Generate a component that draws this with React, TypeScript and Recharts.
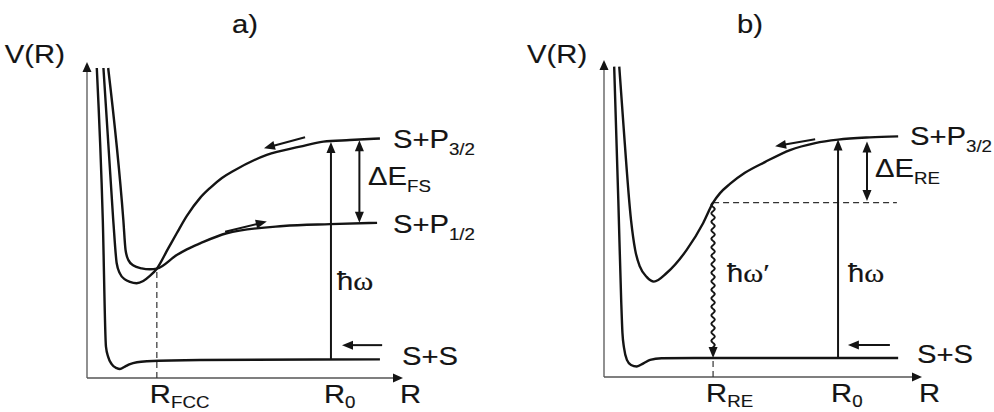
import React from "react";
import { LineChart, Line, XAxis, YAxis, ReferenceLine, ReferenceDot } from "recharts";

type Pt = { r: number; v: number };
type Seg = { x1: number; y1: number; x2: number; y2: number; kind: string };
type Note = { x: number; y: number; text: string; sub?: string; anchor?: string };

// a) potential curves (R, V) in arbitrary units
const groundA: Pt[] = [
  { r: 0.31, v: 9.81 }, { r: 0.5, v: 5.0 }, { r: 0.6, v: 0.99 }, { r: 0.67, v: 0.67 },
  { r: 0.78, v: 0.44 }, { r: 0.94, v: 0.31 }, { r: 1.04, v: 0.285 }, { r: 1.2, v: 0.36 },
  { r: 1.36, v: 0.44 }, { r: 1.58, v: 0.5 }, { r: 1.9, v: 0.53 }, { r: 3.58, v: 0.57 },
  { r: 9.27, v: 0.59 },
];
const p32A: Pt[] = [
  { r: 0.52, v: 9.81 }, { r: 0.83, v: 5.0 }, { r: 0.94, v: 3.63 }, { r: 1.04, v: 3.31 },
  { r: 1.2, v: 3.12 }, { r: 1.36, v: 3.04 }, { r: 1.57, v: 3.0 }, { r: 1.78, v: 3.07 },
  { r: 1.99, v: 3.23 }, { r: 2.21, v: 3.46 }, { r: 2.57, v: 4.1 }, { r: 2.84, v: 4.58 },
  { r: 3.16, v: 5.13 }, { r: 3.58, v: 5.7 }, { r: 3.89, v: 6.01 }, { r: 4.27, v: 6.33 },
  { r: 4.63, v: 6.55 }, { r: 5.69, v: 7.06 }, { r: 6.74, v: 7.32 }, { r: 7.48, v: 7.48 },
  { r: 8.32, v: 7.53 }, { r: 9.27, v: 7.58 },
];
const p12A: Pt[] = [
  { r: 0.67, v: 9.81 }, { r: 1.15, v: 5.0 }, { r: 1.22, v: 4.05 }, { r: 1.31, v: 3.73 },
  { r: 1.47, v: 3.56 }, { r: 1.73, v: 3.47 }, { r: 1.99, v: 3.44 }, { r: 2.21, v: 3.46 },
  { r: 2.84, v: 3.89 }, { r: 3.16, v: 4.07 }, { r: 3.58, v: 4.26 }, { r: 4.42, v: 4.58 },
  { r: 6.21, v: 4.81 }, { r: 7.69, v: 4.87 }, { r: 9.18, v: 4.91 },
];

// b)
const groundB: Pt[] = [
  { r: 0.32, v: 9.79 }, { r: 0.45, v: 5.58 }, { r: 0.54, v: 2.43 }, { r: 0.58, v: 1.39 },
  { r: 0.63, v: 0.92 }, { r: 0.72, v: 0.54 }, { r: 0.85, v: 0.38 }, { r: 1.03, v: 0.33 },
  { r: 1.24, v: 0.43 }, { r: 1.45, v: 0.54 }, { r: 1.81, v: 0.59 }, { r: 2.86, v: 0.6 },
  { r: 9.25, v: 0.6 },
];
const p32B: Pt[] = [
  { r: 0.48, v: 9.79 }, { r: 0.6, v: 8.11 }, { r: 0.85, v: 4.95 }, { r: 0.98, v: 4.01 },
  { r: 1.13, v: 3.48 }, { r: 1.34, v: 3.16 }, { r: 1.57, v: 3.01 }, { r: 1.97, v: 3.28 },
  { r: 2.6, v: 4.01 }, { r: 3.12, v: 4.86 }, { r: 3.43, v: 5.5 }, { r: 3.65, v: 5.8 },
  { r: 3.96, v: 6.09 }, { r: 4.43, v: 6.44 }, { r: 5.06, v: 6.78 }, { r: 5.85, v: 7.16 },
  { r: 6.64, v: 7.38 }, { r: 7.36, v: 7.49 }, { r: 8.36, v: 7.56 }, { r: 9.25, v: 7.59 },
];

const ticksA = [2.21, 7.72, 10];
const tickSubA = ["FCC", "0", ""];
const ticksB = [3.43, 7.36, 10];
const tickSubB = ["RE", "0", ""];

const arrowsA: Seg[] = [
  { x1: 0, y1: 0, x2: 10, y2: 0, kind: "axis" },
  { x1: 0, y1: 0, x2: 0, y2: 10, kind: "axis" },
  { x1: 2.21, y1: 0, x2: 2.21, y2: 3.46, kind: "dash" },
  { x1: 7.72, y1: 0.6, x2: 7.72, y2: 7.47, kind: "arrow" },
  { x1: 8.62, y1: 4.91, x2: 8.62, y2: 7.52, kind: "double" },
  { x1: 9.34, y1: 1.04, x2: 8.07, y2: 1.04, kind: "arrow" },
  { x1: 6.9, y1: 7.62, x2: 5.6, y2: 7.27, kind: "arrow" },
  { x1: 4.37, y1: 4.63, x2: 5.69, y2: 4.95, kind: "arrow" },
];
const arrowsB: Seg[] = [
  { x1: 0, y1: 0, x2: 10, y2: 0, kind: "axis" },
  { x1: 0, y1: 0, x2: 0, y2: 10, kind: "axis" },
  { x1: 3.43, y1: 0, x2: 3.43, y2: 0.6, kind: "dash" },
  { x1: 3.43, y1: 5.5, x2: 9.21, y2: 5.5, kind: "dash" },
  { x1: 3.43, y1: 5.5, x2: 3.43, y2: 0.6, kind: "wave" },
  { x1: 7.36, y1: 0.6, x2: 7.36, y2: 7.49, kind: "arrow" },
  { x1: 8.27, y1: 5.55, x2: 8.27, y2: 7.43, kind: "double" },
  { x1: 8.99, y1: 1.01, x2: 7.67, y2: 1.01, kind: "arrow" },
  { x1: 6.64, y1: 7.5, x2: 5.38, y2: 7.28, kind: "arrow" },
];

const notesA: Note[] = [
  { x: 5.0, y: 10.92, text: "a)", anchor: "middle" },
  { x: -2.6, y: 9.97, text: "V(R)" },
  { x: 9.68, y: 7.28, text: "S+P", sub: "3/2" },
  { x: 8.89, y: 6.1, text: "ΔE", sub: "FS" },
  { x: 9.68, y: 4.59, text: "S+P", sub: "1/2" },
  { x: 7.91, y: 2.79, text: "ħω" },
  { x: 9.97, y: 0.41, text: "S+S" },
];
const notesB: Note[] = [
  { x: 4.59, y: 10.85, text: "b)", anchor: "middle" },
  { x: -2.42, y: 9.9, text: "V(R)" },
  { x: 9.62, y: 7.32, text: "S+P", sub: "3/2" },
  { x: 8.52, y: 6.31, text: "ΔE", sub: "RE" },
  { x: 3.87, y: 3.0, text: "ħω′" },
  { x: 7.67, y: 3.0, text: "ħω" },
  { x: 9.84, y: 0.44, text: "S+S" },
];

const FONT = "'Liberation Sans', Arial, Helvetica, sans-serif";
const INK = "#141414";

function Txt({
  x,
  y,
  text,
  sub,
  anchor,
  subDy = 7,
}: {
  x: number;
  y: number;
  text: string;
  sub?: string;
  anchor?: string;
  subDy?: number;
}) {
  const parts = text.split(/(ω′?)/).filter((s) => s !== "");
  return (
    <text
      transform={`translate(${x},${y}) scale(1.17,1)`}
      fontFamily={FONT}
      fontSize={25}
      fill={INK}
      stroke={INK}
      strokeWidth={0.15}
      textAnchor={anchor || "start"}
    >
      {parts.map((p, i) =>
        p.startsWith("ω") ? (
          <tspan key={i} fontFamily="'Liberation Serif', 'DejaVu Serif', serif" fontSize={26}>
            {p}
          </tspan>
        ) : (
          <tspan key={i}>{p}</tspan>
        )
      )}
      {sub ? (
        <tspan fontSize={16} dy={subDy}>
          {sub}
        </tspan>
      ) : null}
    </text>
  );
}

function arrowShape(kind: string) {
  return (p: any) => {
    const { x1, y1, x2, y2 } = p;
    const len = Math.hypot(x2 - x1, y2 - y1) || 1;
    const ux = (x2 - x1) / len;
    const uy = (y2 - y1) / len;
    const nx = -uy;
    const ny = ux;
    if (kind === "dash") {
      return <line x1={x1} y1={y1} x2={x2} y2={y2} stroke="#333" strokeWidth={1.2} strokeDasharray="6 4" />;
    }
    const hl = kind === "axis" ? 10 : 11;
    const hw = 4.5;
    const head = (tx: number, ty: number, dx: number, dy: number) => {
      const bx = tx - dx * hl;
      const by = ty - dy * hl;
      return `${tx},${ty} ${bx + nx * hw},${by + ny * hw} ${bx - nx * hw},${by - ny * hw}`;
    };
    const ex = x2 - ux * (hl - 1);
    const ey = y2 - uy * (hl - 1);
    if (kind === "axis") {
      return (
        <g>
          <line x1={x1} y1={y1} x2={ex} y2={ey} stroke="#555" strokeWidth={1.3} />
          <polygon points={head(x2, y2, ux, uy)} fill={INK} />
        </g>
      );
    }
    if (kind === "wave") {
      let d = `M${x1},${y1}`;
      const run = len - hl + 1;
      for (let s = 1; s <= run; s += 1) {
        const a = 1.7 * Math.sin((2 * Math.PI * s) / 8.5);
        d += ` L${x1 + ux * s + nx * a},${y1 + uy * s + ny * a}`;
      }
      return (
        <g>
          <path d={d} fill="none" stroke={INK} strokeWidth={1.9} />
          <polygon points={head(x2, y2, ux, uy)} fill={INK} />
        </g>
      );
    }
    if (kind === "double") {
      const sx = x1 + ux * (hl - 1);
      const sy = y1 + uy * (hl - 1);
      return (
        <g>
          <line x1={sx} y1={sy} x2={ex} y2={ey} stroke={INK} strokeWidth={2} />
          <polygon points={head(x2, y2, ux, uy)} fill={INK} />
          <polygon points={head(x1, y1, -ux, -uy)} fill={INK} />
        </g>
      );
    }
    return (
      <g>
        <line x1={x1} y1={y1} x2={ex} y2={ey} stroke={INK} strokeWidth={2} />
        <polygon points={head(x2, y2, ux, uy)} fill={INK} />
      </g>
    );
  };
}

function RTick(props: any) {
  const { x, y, payload, ticks, subs } = props;
  const i = ticks.indexOf(payload.value);
  const sub = subs[i] || "";
  const dx = sub === "" ? -3 : -7;
  return <Txt x={x + dx} y={y + 17} text="R" sub={sub || undefined} subDy={5} />;
}

function Panel({
  curves,
  arrows,
  notes,
  ticks,
  subs,
  margin,
}: {
  curves: Pt[][];
  arrows: Seg[];
  notes: Note[];
  ticks: number[];
  subs: string[];
  margin: { top: number; right: number; bottom: number; left: number };
}) {
  return (
    <LineChart width={497} height={412} margin={margin}>
      <XAxis
        type="number"
        dataKey="r"
        domain={[0, 10]}
        allowDataOverflow
        ticks={ticks}
        interval={0}
        axisLine={false}
        tickLine={false}
        height={30}
        tick={(p: any) => <RTick {...p} ticks={ticks} subs={subs} />}
      />
      <YAxis type="number" dataKey="v" domain={[0, 10]} allowDataOverflow hide />
      {arrows.map((a, i) => (
        <ReferenceLine
          key={`s${i}`}
          segment={[
            { x: a.x1, y: a.y1 },
            { x: a.x2, y: a.y2 },
          ]}
          ifOverflow="visible"
          shape={arrowShape(a.kind)}
        />
      ))}
      {curves.map((c, i) => (
        <Line
          key={`c${i}`}
          data={c}
          dataKey="v"
          type="monotone"
          stroke={INK}
          strokeWidth={2.4}
          dot={false}
          activeDot={false}
          isAnimationActive={false}
        />
      ))}
      {notes.map((n, i) => (
        <ReferenceDot
          key={`n${i}`}
          x={n.x}
          y={n.y}
          r={0}
          ifOverflow="visible"
          shape={(p: any) => <Txt x={p.cx} y={p.cy} text={n.text} sub={n.sub} anchor={n.anchor} />}
        />
      ))}
    </LineChart>
  );
}

export default function App() {
  return (
    <div
      style={{
        position: "absolute",
        left: 0,
        top: 0,
        width: 994,
        height: 412,
        background: "#fff",
        display: "flex",
      }}
    >
      <Panel
        curves={[groundA, p32A, p12A]}
        arrows={arrowsA}
        notes={notesA}
        ticks={ticksA}
        subs={tickSubA}
        margin={{ top: 62, right: 94, bottom: 4, left: 87 }}
      />
      <Panel
        curves={[groundB, p32B]}
        arrows={arrowsB}
        notes={notesB}
        ticks={ticksB}
        subs={tickSubB}
        margin={{ top: 60, right: 72, bottom: 5, left: 107 }}
      />
    </div>
  );
}
